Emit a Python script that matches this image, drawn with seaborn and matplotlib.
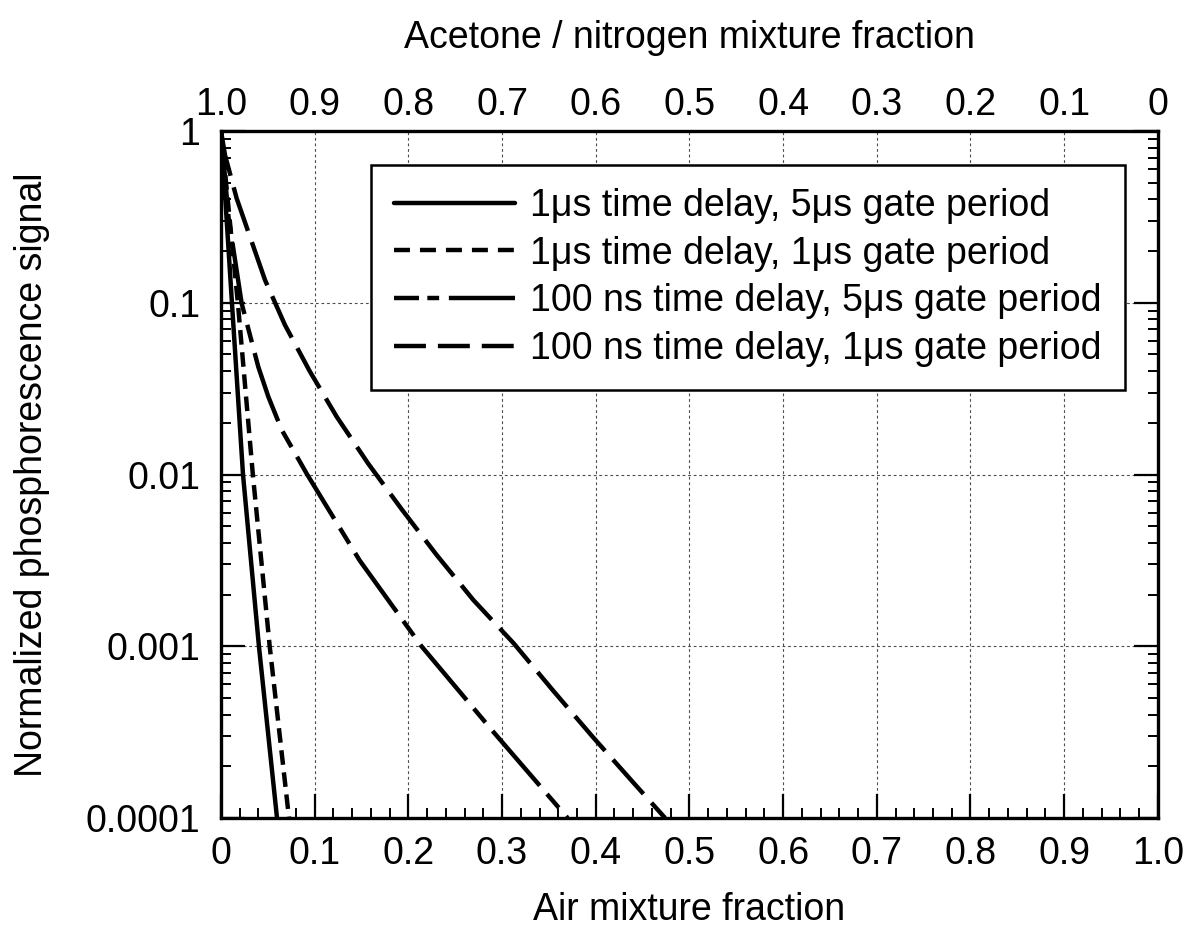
import matplotlib
matplotlib.use("Agg")
import matplotlib.pyplot as plt
from matplotlib.ticker import MultipleLocator, LogLocator, NullFormatter, FixedLocator
import pandas as pd
import seaborn as sns

# values (air mixture fraction, normalized signal)
air_1us_5us = [0, 0.0117, 0.0235, 0.0405, 0.0598]
sig_1us_5us = [1, 0.1, 0.01, 0.001, 0.0001]

air_1us_1us = [0, 0.018, 0.034, 0.052, 0.0726]
sig_1us_1us = [1, 0.1, 0.01, 0.001, 0.0001]

air_100ns_5us = [0, 0.008, 0.0221, 0.0398, 0.0505, 0.0648, 0.092, 0.148, 0.214, 0.291, 0.370]
sig_100ns_5us = [1, 0.316, 0.099, 0.0424, 0.0284, 0.0182, 0.01, 0.00316, 0.001, 0.000316, 0.0001]

air_100ns_1us = [0, 0.0043, 0.0167, 0.047, 0.0683, 0.095, 0.1235, 0.157, 0.1929, 0.2302,
                 0.2693, 0.3124, 0.3547, 0.3967, 0.440, 0.474]
sig_100ns_1us = [1, 0.725, 0.406, 0.1356, 0.0742, 0.0397, 0.0217, 0.0116, 0.00627, 0.0034,
                 0.00186, 0.00104, 0.00055, 0.000297, 0.000161, 0.0001]

labels = [
    "1\u03bcs time delay, 5\u03bcs gate period",
    "1\u03bcs time delay, 1\u03bcs gate period",
    "100 ns time delay, 5\u03bcs gate period",
    "100 ns time delay, 1\u03bcs gate period",
]

x_ticks = [0, 0.1, 0.2, 0.3, 0.4, 0.5, 0.6, 0.7, 0.8, 0.9, 1.0]
x_ticklabels = ["0", "0.1", "0.2", "0.3", "0.4", "0.5", "0.6", "0.7", "0.8", "0.9", "1.0"]
top_ticklabels = ["1.0", "0.9", "0.8", "0.7", "0.6", "0.5", "0.4", "0.3", "0.2", "0.1", "0"]
y_ticks = [1, 0.1, 0.01, 0.001, 0.0001]
y_ticklabels = ["1", "0.1", "0.01", "0.001", "0.0001"]

sns.set_style("ticks")
plt.rcParams["font.family"] = ["Liberation Sans", "DejaVu Sans"]
plt.rcParams["lines.scale_dashes"] = False
plt.rcParams["text.color"] = "black"
plt.rcParams["axes.labelcolor"] = "black"
plt.rcParams["xtick.color"] = "black"
plt.rcParams["ytick.color"] = "black"

FS = 27

fig = plt.figure(figsize=(11.9, 9.44), dpi=100)
ax = fig.add_axes([0.1857, 0.1335, 0.7873, 0.7277])

# curve dash patterns (points) and the shorter ones used in the legend
curve_styles = ["-", (0, (10.5, 5.5)), (0, (52, 8, 13, 8)), (0, (33, 8.6))]
legend_styles = ["-", (0, (11.5, 7.2)), (34, (52, 6, 8.5, 7)), (0, (23, 8.6))]

series = [
    (air_1us_5us, sig_1us_5us),
    (air_1us_1us, sig_1us_1us),
    (air_100ns_5us, sig_100ns_5us),
    (air_100ns_1us, sig_100ns_1us),
]

for (xs, ys), ls, lab in zip(series, curve_styles, labels):
    df = pd.DataFrame({"air": xs, "signal": ys})
    sns.lineplot(data=df, x="air", y="signal", ax=ax, color="black",
                 linewidth=3.2, linestyle=ls, label=lab,
                 estimator=None, sort=False)

ax.set_yscale("log")
ax.set_xlim(0, 1)
ax.set_ylim(0.0001, 1)

ax.set_xticks(x_ticks)
ax.set_xticklabels(x_ticklabels)
ax.xaxis.set_minor_locator(MultipleLocator(0.02))
ax.yaxis.set_major_locator(FixedLocator(y_ticks))
ax.set_yticklabels(y_ticklabels)
ax.yaxis.set_minor_locator(LogLocator(base=10, subs=range(2, 10)))
ax.yaxis.set_minor_formatter(NullFormatter())

ax.tick_params(which="both", direction="in", top=True, right=True, color="black")
ax.tick_params(which="major", length=17, width=1.6, labelsize=FS)
ax.tick_params(which="minor", length=7, width=1.4)
ax.tick_params(axis="x", which="major", pad=13)
ax.tick_params(axis="y", which="major", pad=15)

for sp in ax.spines.values():
    sp.set_linewidth(2.4)
    sp.set_color("black")

ax.grid(True, which="major", linestyle=(0, (2, 2)), linewidth=0.8, color="0.3")

ax.set_xlabel("Air mixture fraction", fontsize=FS)
ax.xaxis.set_label_coords(0.5, -0.108)
ax.set_ylabel("Normalized phosphorescence signal", fontsize=FS)
ax.yaxis.set_label_coords(-0.183, 0.5)

ax2 = ax.twiny()
ax2.set_xlim(0, 1)
ax2.set_xticks(x_ticks)
ax2.set_xticklabels(top_ticklabels)
ax2.tick_params(axis="x", which="both", length=0, labelsize=FS, pad=6)
ax2.set_xlabel("Acetone / nitrogen mixture fraction", fontsize=FS)
ax2.xaxis.set_label_coords(0.5, 1.121)
for sp in ax2.spines.values():
    sp.set_visible(False)

leg = ax.legend(loc="upper left", bbox_to_anchor=(0.16, 0.951), borderaxespad=0,
                fontsize=FS, handlelength=3.23, labelspacing=0.31, handletextpad=0.4,
                borderpad=0.62, fancybox=False, framealpha=1, edgecolor="black")
leg.get_frame().set_linewidth(1.8)
for line, ls in zip(leg.get_lines(), legend_styles):
    line.set_linestyle(ls)

fig.savefig("out.png", dpi=100)
